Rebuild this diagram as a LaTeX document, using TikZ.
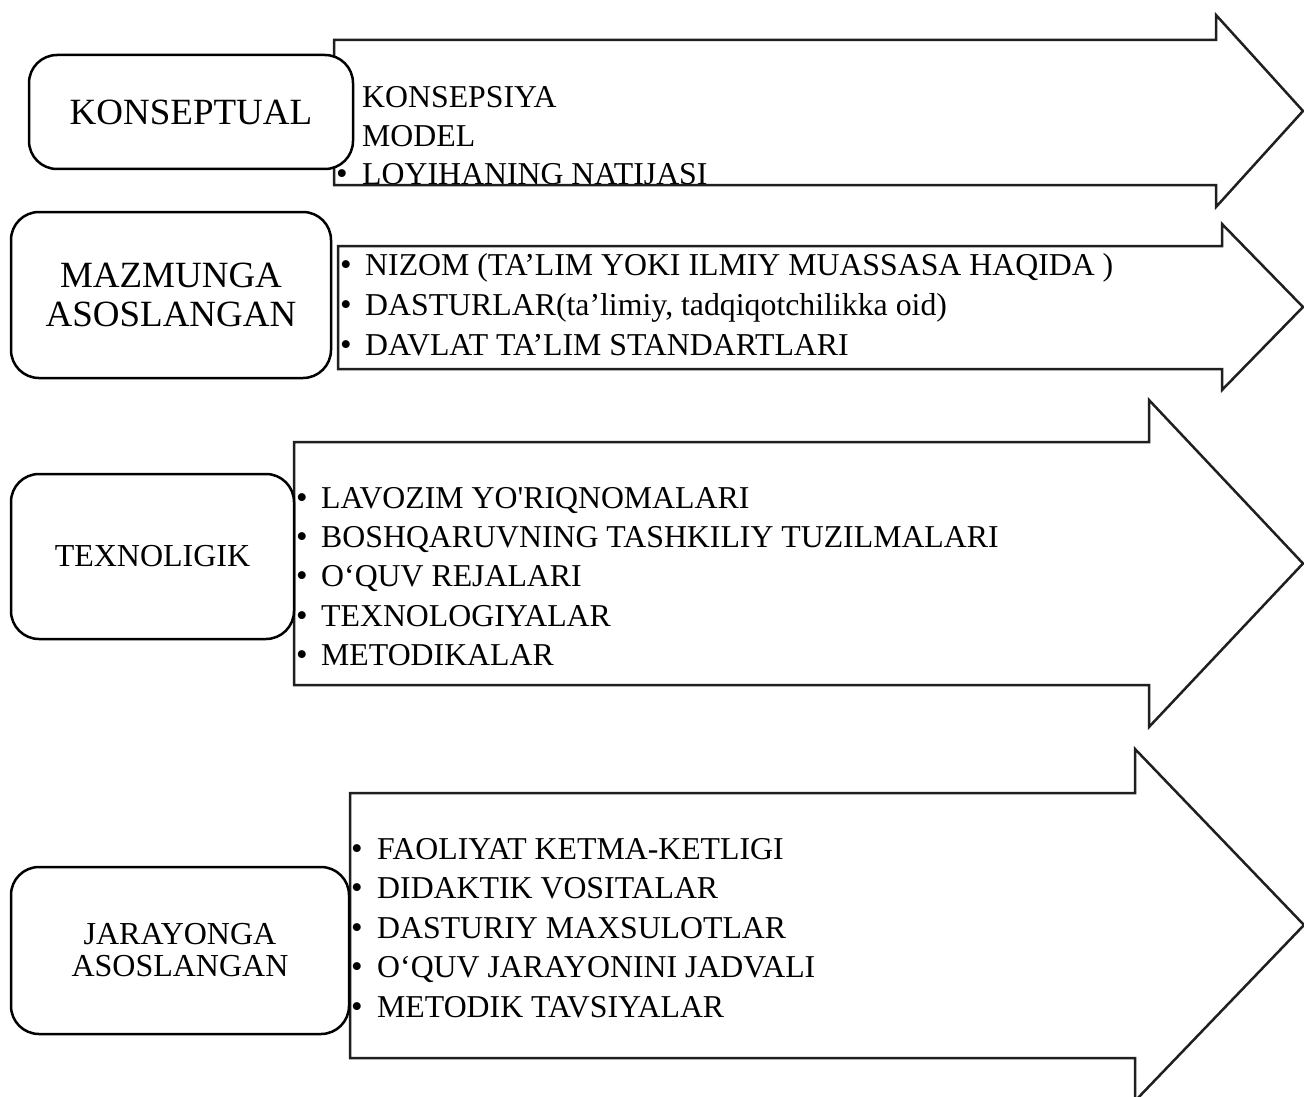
\documentclass[tikz,border=0pt]{standalone}
\usepackage{fontspec}
\setmainfont{Liberation Serif}
\tikzset{
  arrowshape/.style={draw=black!88, line width=2.5pt, line join=miter},
  boxshape/.style={draw=black, line width=2.5pt, fill=white, rounded corners=28pt, inner sep=0pt, align=center},
  item/.style={inner sep=0pt, font=\fontsize{31.8}{37}\selectfont, anchor=base west},
  bul/.style={inner sep=0pt, font=\fontsize{33}{37}\selectfont, anchor=base},
}
\begin{document}
\begin{tikzpicture}[x=1pt,y=-1pt]
\fill[white] (0,0) rectangle (1304,1097);
\useasboundingbox (0,0) rectangle (1304,1097);

% ---- arrow 1 texts
\foreach \t [count=\i] in {KONSEPSIYA, MODEL, LOYIHANING NATIJASI} {
  \node[item] (a1t\i) at (362,{108+38.5*(\i-1)}) {\t};
  \node[bul] (a1b\i) at (342,{108+38.5*(\i-1)}) {•};
}
% ---- arrow 2 texts
\foreach \t [count=\i] in {{NIZOM (TA’LIM YOKI ILMIY MUASSASA HAQIDA )}, {DASTURLAR(ta’limiy, tadqiqotchilikka oid)}, {DAVLAT TA’LIM STANDARTLARI}} {
  \node[item] (a2t\i) at (365,{275+40*(\i-1)}) {\t};
  \node[bul] (a2b\i) at (346,{275+40*(\i-1)}) {•};
}
% ---- arrow 3 texts
\foreach \t [count=\i] in {{LAVOZIM YO\textquotesingle RIQNOMALARI}, {BOSHQARUVNING TASHKILIY TUZILMALARI}, {O‘QUV REJALARI}, {TEXNOLOGIYALAR}, {METODIKALAR}} {
  \node[item] (a3t\i) at (321,{508+39.4*(\i-1)}) {\t};
  \node[bul] (a3b\i) at (302,{508+39.4*(\i-1)}) {•};
}
% ---- arrow 4 texts
\foreach \t [count=\i] in {{FAOLIYAT KETMA-KETLIGI}, {DIDAKTIK VOSITALAR}, {DASTURIY MAXSULOTLAR}, {O‘QUV JARAYONINI JADVALI}, {METODIK TAVSIYALAR}} {
  \node[item] (a4t\i) at (377,{859+39.5*(\i-1)}) {\t};
  \node[bul] (a4b\i) at (357,{859+39.5*(\i-1)}) {•};
}

% ---- arrows
\draw[arrowshape] (334,40) -- (1216,40) -- (1216,15) -- (1303,111) -- (1216,207) -- (1216,185) -- (334,185) -- cycle;
\draw[arrowshape] (338,246) -- (1222,246) -- (1222,224) -- (1303,307) -- (1222,390) -- (1222,369) -- (338,369) -- cycle;
\draw[arrowshape] (294,442) -- (1149,442) -- (1149,400) -- (1303,563.5) -- (1149,727) -- (1149,685) -- (294,685) -- cycle;
\draw[arrowshape] (350,793) -- (1135,793) -- (1135,749) -- (1304,925) -- (1135,1101) -- (1135,1058) -- (350,1058) -- cycle;

% ---- boxes
\node[boxshape, minimum width=324pt, minimum height=114pt, font=\fontsize{37}{38.5}\selectfont] (k1) at (191,112) {KONSEPTUAL};
\node[boxshape, minimum width=320pt, minimum height=166pt, font=\fontsize{37}{38.5}\selectfont] (k2) at (171,295) {MAZMUNGA\\ASOSLANGAN};
\node[boxshape, minimum width=283pt, minimum height=165pt, font=\fontsize{32}{32}\selectfont] (k3) at (152.5,556.5) {TEXNOLIGIK};
\node[boxshape, minimum width=338pt, minimum height=167pt, font=\fontsize{32}{32}\selectfont] (k4) at (180,950.5) {JARAYONGA\\ASOSLANGAN};
\end{tikzpicture}
\end{document}
